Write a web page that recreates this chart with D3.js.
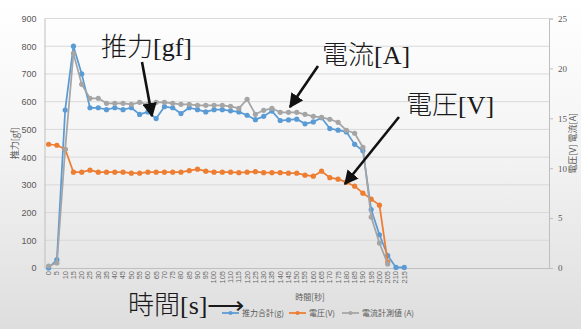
<!DOCTYPE html>
<html><head><meta charset="utf-8">
<script src="https://cdn.jsdelivr.net/npm/d3@7"></script>
<style>body{margin:0;background:#fff}svg{display:block}</style>
</head><body>
<svg id="c" width="581" height="329"></svg>
<script>
// ---- data ----
const categories = [0,5,10,15,20,25,30,35,40,45,50,55,60,65,70,75,80,85,90,95,100,105,110,115,120,125,130,135,140,145,150,155,160,165,170,175,180,185,190,195,200,205,210,215];
const emptySlots = 17; // blank category rows after the last label
const thrust = [0,30,570,800,700,578,578,571,578,571,578,554,563,539,582,578,557,578,571,563,571,571,567,563,551,535,547,566,532,534,537,520,527,542,503,497,491,446,423,211,120,45,2,2];
const voltage = [12.4,12.3,11.9,9.6,9.6,9.8,9.6,9.6,9.6,9.6,9.5,9.5,9.6,9.6,9.6,9.6,9.6,9.75,9.9,9.7,9.6,9.6,9.6,9.55,9.6,9.65,9.55,9.55,9.55,9.5,9.5,9.3,9.2,9.7,9.05,8.9,8.6,8.2,7.5,6.9,6.3,0.6,null,null];
const current = [0.2,0.5,11.9,21.5,18.4,17.0,17.0,16.5,16.5,16.5,16.4,16.6,16.4,16.6,16.6,16.5,16.4,16.4,16.3,16.3,16.3,16.3,16.2,16.0,16.9,15.4,15.8,16.0,15.6,15.6,15.6,15.4,15.2,15.1,14.9,14.6,13.8,13.5,12.1,5.1,2.5,0.4,null,null];
const leftTicks = [0,100,200,300,400,500,600,700,800,900];
const rightTicks = [0,5,10,15,20,25];
const seriesNames = ["推力合計(g)","電圧(V)","電流計測値 (A)"];

const svg = d3.select("#c");
const W=581,H=329;
const L=44.5,R=549,T=18.5,B=268;

// background gradient
const defs = svg.append("defs");
const g1 = defs.append("linearGradient").attr("id","bg").attr("x1",0).attr("y1",0).attr("x2",0).attr("y2",1);
g1.append("stop").attr("offset","0%").attr("stop-color","#ffffff");
g1.append("stop").attr("offset","45%").attr("stop-color","#f4f4f4");
g1.append("stop").attr("offset","100%").attr("stop-color","#dedede");
svg.append("rect").attr("width",W).attr("height",H).attr("fill","url(#bg)");

const slots = categories.map(String).concat(d3.range(emptySlots).map(i=>"_"+i));
const x = d3.scaleBand().domain(slots).range([L,R]);
const xc = c => x(String(c)) + x.bandwidth()/2;
const yL = d3.scaleLinear().domain([0,900]).range([B,T]);
const yR = d3.scaleLinear().domain([0,25]).range([B,T]);

// gridlines
svg.append("g").selectAll("line").data(leftTicks.slice(1)).join("line")
  .attr("x1",L).attr("x2",R).attr("y1",d=>yL(d)).attr("y2",d=>yL(d))
  .attr("stroke","#d9d9d9").attr("stroke-width",1);

// axes
const txt = "#595959";
const axL = svg.append("g").attr("transform",`translate(${L},0)`)
  .call(d3.axisLeft(yL).tickValues(leftTicks).tickSize(0).tickPadding(8));
const axR = svg.append("g").attr("transform",`translate(${R},0)`)
  .call(d3.axisRight(yR).tickValues(rightTicks).tickSize(4).tickPadding(5));
const axB = svg.append("g").attr("transform",`translate(0,${B})`)
  .call(d3.axisBottom(x).tickValues(categories.map(String)).tickSize(0).tickPadding(3));
[axL,axR,axB].forEach(a=>{
  a.selectAll(".domain").attr("stroke","#bfbfbf");
  a.selectAll(".tick line").attr("stroke","#bfbfbf");
  a.selectAll("text").attr("fill",txt).attr("font-family","Liberation Sans, Arial, sans-serif").attr("font-size",9);
});
axR.selectAll("text").attr("font-family","Liberation Serif, serif").attr("font-size",9);
axB.selectAll("text").attr("font-size",7.5).attr("fill","#6a6a6a")
  .attr("transform","rotate(-90)").attr("text-anchor","end")
  .attr("x",-3).attr("y",0).attr("dy","0.32em");

// axis titles
svg.append("text").attr("transform",`translate(18,${(T+B)/2}) rotate(-90)`)
  .attr("text-anchor","middle").attr("fill",txt).attr("font-size",9)
  .attr("font-family","Noto Sans CJK JP, sans-serif").text("推力[gf]");
svg.append("text").attr("transform",`translate(576,${(T+B)/2}) rotate(-90)`)
  .attr("text-anchor","middle").attr("fill",txt).attr("font-size",9)
  .attr("font-family","Noto Sans CJK JP, sans-serif").text("電圧[V]  電流[A]");
svg.append("text").attr("x",310).attr("y",300).attr("text-anchor","middle")
  .attr("fill",txt).attr("font-size",8).attr("font-family","Noto Sans CJK JP, sans-serif").text("時間[秒]");

// series
const colors = ["#5b9bd5","#ed7d31","#a5a5a5"];
const series = [
  {vals:thrust, y:yL, c:colors[0]},
  {vals:voltage, y:yR, c:colors[1]},
  {vals:current, y:yR, c:colors[2]}
];
series.forEach(s=>{
  const pts = categories.map((c,i)=>({c, v:s.vals[i]})).filter(d=>d.v!=null);
  const line = d3.line().x(d=>xc(d.c)).y(d=>s.y(d.v));
  svg.append("path").datum(pts).attr("d",line).attr("fill","none")
    .attr("stroke",s.c).attr("stroke-width",1.75).attr("stroke-linejoin","round");
  svg.append("g").selectAll("circle").data(pts).join("circle")
    .attr("cx",d=>xc(d.c)).attr("cy",d=>s.y(d.v)).attr("r",2.6).attr("fill",s.c);
});

// legend
const lg = svg.append("g").attr("font-family","Noto Sans CJK JP, sans-serif").attr("font-size",8).attr("fill",txt);
const lx = [222,289,342];
seriesNames.forEach((n,i)=>{
  lg.append("line").attr("x1",lx[i]).attr("x2",lx[i]+17).attr("y1",313).attr("y2",313)
    .attr("stroke",colors[i]).attr("stroke-width",1.75);
  lg.append("circle").attr("cx",lx[i]+8.5).attr("cy",313).attr("r",2).attr("fill",colors[i]);
  lg.append("text").attr("x",lx[i]+20).attr("y",316).text(n);
});

// annotations
const ann = svg.append("g").attr("font-family","Liberation Serif, Noto Sans CJK JP, serif")
  .attr("fill","#1a1a1a").attr("font-size",26).attr("font-weight",300);
ann.append("text").attr("x",101).attr("y",56).text("推力[gf]");
ann.append("text").attr("x",322).attr("y",64).text("電流[A]");
ann.append("text").attr("x",406).attr("y",114).text("電圧[V]");
ann.append("text").attr("x",128).attr("y",314).text("時間[s]⟶");

defs.append("marker").attr("id","ah").attr("viewBox","0 0 10 10").attr("refX",9).attr("refY",5)
  .attr("markerWidth",5.5).attr("markerHeight",5.5).attr("orient","auto")
  .append("path").attr("d","M0,0L10,5L0,10z").attr("fill","#111");
const arrows = [[142,62,152,116],[318,66,290,107],[399,117,345,184]];
svg.append("g").selectAll("line").data(arrows).join("line")
  .attr("x1",d=>d[0]).attr("y1",d=>d[1]).attr("x2",d=>d[2]).attr("y2",d=>d[3])
  .attr("stroke","#111").attr("stroke-width",2.6).attr("marker-end","url(#ah)");
</script>
</body></html>
